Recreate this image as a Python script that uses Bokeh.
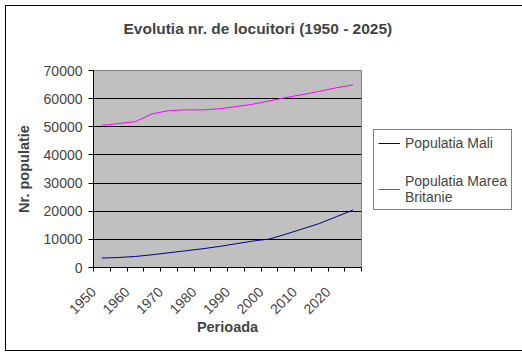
from bokeh.plotting import figure
from bokeh.models import (Range1d, FixedTicker, Legend, LegendItem, Title,
                          InlineStyleSheet)
from bokeh.embed import file_html
from bokeh.resources import INLINE

# ---- data ----
years = [1950, 1955, 1960, 1965, 1970, 1975, 1980, 1985,
         1990, 1995, 2000, 2005, 2010, 2015, 2020, 2025]
mali = [3350, 3560, 3920, 4520, 5230, 5940, 6650, 7470,
        8430, 9390, 10100, 11880, 13770, 15660, 18040, 20430]
uk = [50530, 51140, 51850, 54590, 55760, 56000, 56000, 56370,
      57190, 58010, 59200, 60390, 61460, 62630, 63850, 64910]
label_years = [1950, 1960, 1970, 1980, 1990, 2000, 2010, 2020]
y_ticks = [0, 10000, 20000, 30000, 40000, 50000, 60000, 70000]

title_text = "Evolutia nr. de locuitori (1950 - 2025)"
x_title = "Perioada"
y_title = "Nr. populatie"
names = ["Populatia Mali", "Populatia Marea\nBritanie"]

FONT = "Liberation Sans"
step = years[1] - years[0]
half = step / 2

p = figure(output_backend="svg", toolbar_location=None, title_location=None,
           frame_width=268, frame_height=197,
           min_border_left=87, min_border_right=154,
           min_border_top=64, min_border_bottom=83,
           x_range=Range1d(years[0] - half, years[-1] + half),
           y_range=Range1d(y_ticks[0], y_ticks[-1]))

# outer chart border (1px ring just outside the canvas)
p.margin = (6, 0, 0, 6)
p.styles = {"box-shadow": "0 0 0 1px black"}
p.stylesheets = [InlineStyleSheet(css=":host { box-shadow: 0 0 0 1px black; }")]

p.background_fill_color = "#C0C0C0"
p.border_fill_color = "white"
p.outline_line_color = "#808080"

# title (spacer keeps it high above the plot area)
spacer = Title(text=" ", text_font=FONT, text_font_size="15.5px",
               standoff=15)
title = Title(text=title_text, text_font=FONT, text_font_size="15.5px",
              text_font_style="bold", align="left", offset=30, standoff=0)
p.add_layout(spacer, "above")
p.add_layout(title, "above")

# grid
p.xgrid.grid_line_color = None
p.ygrid.grid_line_color = "black"
p.ygrid.grid_line_width = 1

# y axis
p.yaxis.ticker = FixedTicker(ticks=y_ticks)
p.yaxis.major_tick_out = 5
p.yaxis.major_tick_in = 0
p.yaxis.minor_tick_line_color = None
p.yaxis.major_label_standoff = 6
p.yaxis.major_label_text_font = FONT
p.yaxis.major_label_text_font_size = "14px"
p.yaxis.axis_label = y_title
p.yaxis.axis_label_text_font = FONT
p.yaxis.axis_label_text_font_size = "14.5px"
p.yaxis.axis_label_text_font_style = "bold"
p.yaxis.axis_label_standoff = 9
p.yaxis.axis_line_color = "black"

# x axis: tick marks on category boundaries, labels every other category
bounds = [y - half for y in years] + [years[-1] + half]
label_pos = [y - half for y in label_years]
p.xaxis.ticker = FixedTicker(ticks=label_pos, minor_ticks=bounds)
p.xaxis.major_label_overrides = {pos: str(y) for pos, y in zip(label_pos, label_years)}
p.xaxis.major_tick_line_color = None
p.xaxis.major_tick_out = 0
p.xaxis.major_tick_in = 0
p.xaxis.minor_tick_out = 4
p.xaxis.minor_tick_in = 0
p.xaxis.minor_tick_line_color = "black"
p.xaxis.major_label_orientation = 0.785398
p.xaxis.major_label_standoff = 18
p.xaxis.major_label_text_font = FONT
p.xaxis.major_label_text_font_size = "14px"
p.xaxis.axis_label = x_title
p.xaxis.axis_label_text_font = FONT
p.xaxis.axis_label_text_font_size = "14.5px"
p.xaxis.axis_label_text_font_style = "bold"
p.xaxis.axis_label_standoff = -3
p.xaxis.axis_line_color = "black"

r1 = p.line(years, mali, line_color="#000080", line_width=1)
r2 = p.line(years, uk, line_color="#FF00FF", line_width=1)

legend = Legend(items=[LegendItem(label=names[0], renderers=[r1]),
                       LegendItem(label=names[1], renderers=[r2])],
                location=(12, 57), margin=0, padding=4, spacing=22,
                glyph_width=22, glyph_height=16, label_height=17,
                label_standoff=5,
                label_text_font=FONT, label_text_font_size="14px",
                border_line_color="black", border_line_width=1,
                background_fill_color="white", background_fill_alpha=1)
p.add_layout(legend, "right")

open("out.html", "w").write(file_html(p, INLINE))
